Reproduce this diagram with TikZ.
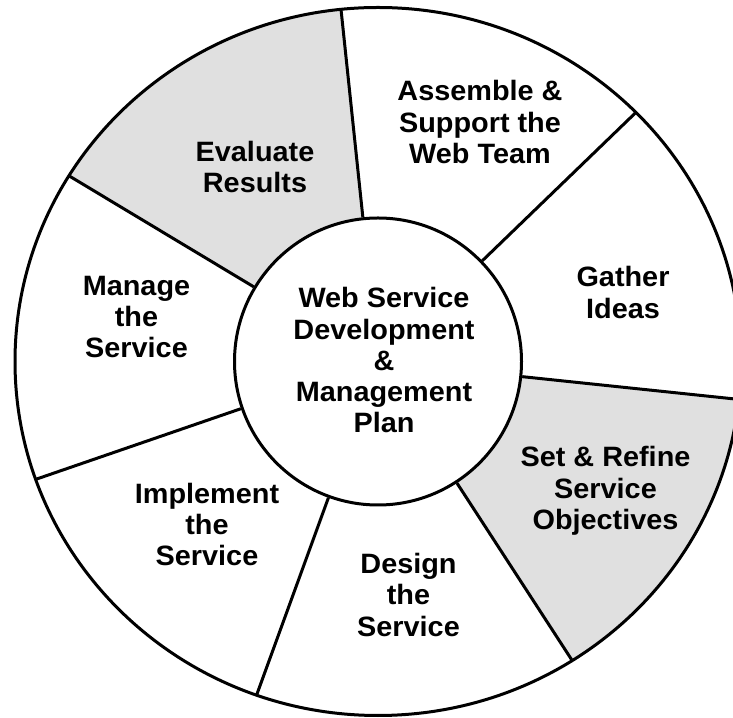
\documentclass[tikz,border=0pt]{standalone}
\usepackage{fontspec}
\setmainfont{Liberation Sans}[FakeStretch=1.03]
\usetikzlibrary{shapes.geometric}
\definecolor{sectorgrey}{RGB}{224,224,224}
\tikzset{
  rimshape/.style={ellipse, draw, line width=3pt, minimum width=726pt, minimum height=708pt, inner sep=0pt, outer sep=0pt},
  hubshape/.style={circle, draw, fill=white, line width=3pt, minimum size=287pt, inner sep=0pt},
  divider/.style={line width=3pt},
  lbl/.style={align=center, inner sep=0pt, font=\bfseries\fontsize{28}{31.3}\selectfont}
}
\begin{document}
\begin{tikzpicture}[x=1pt,y=1pt]
\useasboundingbox (0,0) rectangle (733,717);
\fill[white] (0,0) rectangle (733,717);
\coordinate (C) at (378,355.5);
\begin{scope}
  \clip (C) ellipse [x radius=363pt, y radius=354pt];
  \fill[sectorgrey] (C) -- +(96:600) arc[start angle=96, end angle=149, radius=600] -- cycle;
  \fill[sectorgrey] (C) -- +(-57:600) arc[start angle=-57, end angle=-6, radius=600] -- cycle;
\end{scope}
\node[rimshape] (rim) at (C) {};
\node[hubshape] (hub) at (C) {};
\foreach \a in {96,44,-6,-57,-110,-161,149}
  \draw[divider] (hub.\a) -- (rim.\a);
\node[lbl] (center) at (384,356.7) {Web Service\\Development\\\&\\Management\\Plan};
\node[lbl] (assemble) at (480,594.7) {Assemble \&\\Support the\\Web Team};
\node[lbl] (evaluate) at (255,549.8) {Evaluate\\Results};
\node[lbl] (gather) at (623,424.5) {Gather\\Ideas};
\node[lbl] (manage) at (136.5,400) {Manage\\the\\Service};
\node[lbl] (setrefine) at (605.5,226) {Set \& Refine\\Service\\Objectives};
\node[lbl] (implement) at (207,192.5) {Implement\\the\\Service};
\node[lbl] (design) at (408.5,122.3) {Design\\the\\Service};
\end{tikzpicture}
\end{document}
